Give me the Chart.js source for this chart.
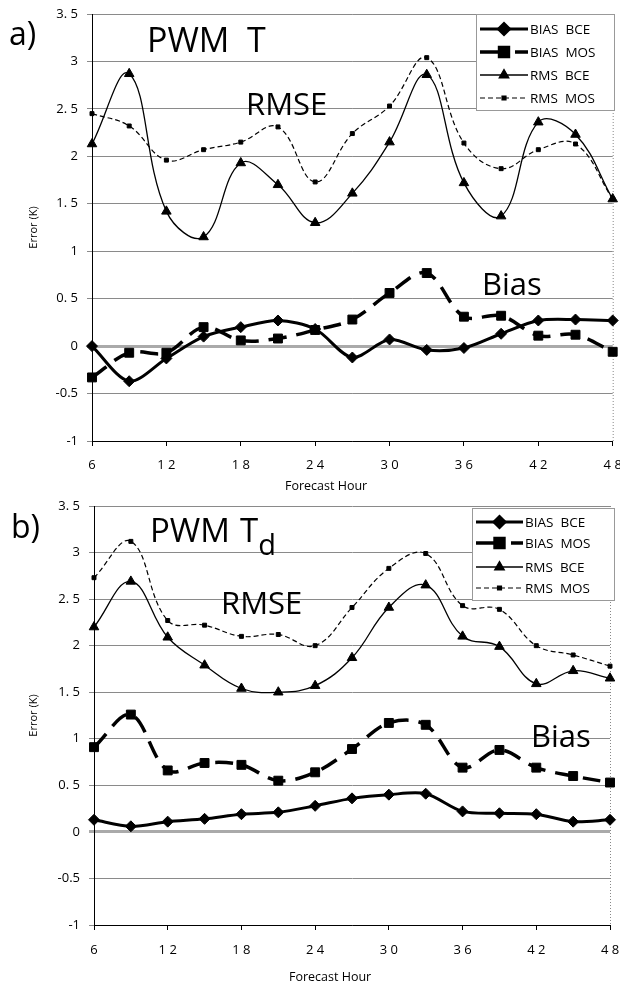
<!DOCTYPE html>
<html>
<head>
<meta charset="utf-8">
<script src="https://cdn.jsdelivr.net/npm/chart.js@4.4.1/dist/chart.umd.min.js"></script>
<style>
  body { margin: 0; background: #fff; }
  #page { position: relative; width: 620px; height: 989px; font-family: "Open Sans", sans-serif; color: #000; overflow: hidden; }
  canvas { position: absolute; left: 0; }
  .lbl { position: absolute; line-height: 1; white-space: pre; }
</style>
</head>
<body>
<div id="page">
  <canvas id="chartA" width="620" height="495" style="top:0"></canvas>
  <canvas id="chartB" width="620" height="494" style="top:495px"></canvas>

  <!-- panel a -->
  <div class="lbl" style="left:9px;top:17px;font-size:32px">a)</div>
  <div class="lbl" style="left:147px;top:22px;font-size:34px">PWM</div>
  <div class="lbl" style="left:247px;top:22px;font-size:34px">T</div>
  <div class="lbl" style="left:246px;top:88px;font-size:31px">RMSE</div>
  <div class="lbl" style="left:482px;top:268px;font-size:31px">Bias</div>
  <div class="lbl" style="left:285px;top:480px;font-size:12.5px">Forecast Hour</div>

  <!-- panel b -->
  <div class="lbl" style="left:11px;top:510px;font-size:32px">b)</div>
  <div class="lbl" style="left:150px;top:513px;font-size:33px">PWM</div>
  <div class="lbl" style="left:240px;top:513px;font-size:33px">T<span style="font-size:29px;position:relative;top:13px">d</span></div>
  <div class="lbl" style="left:221px;top:587px;font-size:31px">RMSE</div>
  <div class="lbl" style="left:531px;top:720px;font-size:31px">Bias</div>
  <div class="lbl" style="left:289px;top:971px;font-size:12.5px">Forecast Hour</div>
</div>

<script>
// forecast hours (x) and tick labels
const hours = [6, 9, 12, 15, 18, 21, 24, 27, 30, 33, 36, 39, 42, 45, 48];
const xTickValues = [6, 12, 18, 24, 30, 36, 42, 48];
const xTickText = ['6', '1 2', '1 8', '2 4', '3 0', '3 6', '4 2', '4 8'];
const yTickValues = [-1, -0.5, 0, 0.5, 1, 1.5, 2, 2.5, 3, 3.5];
const yTickText = ['-1', '-0.5', '0', '0. 5', '1', '1. 5', '2', '2. 5', '3', '3. 5'];
const seriesNames = ['BIAS  BCE', 'BIAS  MOS', 'RMS  BCE', 'RMS  MOS'];

// a) PWM T
const aBiasBce = [0.00, -0.37, -0.13, 0.10, 0.20, 0.27, 0.18, -0.12, 0.07, -0.04, -0.02, 0.13, 0.27, 0.28, 0.27];
const aBiasMos = [-0.33, -0.07, -0.07, 0.20, 0.06, 0.08, 0.17, 0.28, 0.56, 0.77, 0.31, 0.32, 0.11, 0.12, -0.06];
const aRmsBce = [2.13, 2.87, 1.42, 1.15, 1.93, 1.70, 1.30, 1.61, 2.15, 2.86, 1.72, 1.37, 2.36, 2.23, 1.55];
const aRmsMos = [2.45, 2.32, 1.96, 2.07, 2.15, 2.31, 1.73, 2.24, 2.53, 3.04, 2.14, 1.87, 2.07, 2.13, 1.55];

// b) PWM Td
const bBiasBce = [0.13, 0.06, 0.11, 0.14, 0.19, 0.21, 0.28, 0.36, 0.40, 0.41, 0.22, 0.20, 0.19, 0.11, 0.13];
const bBiasMos = [0.91, 1.26, 0.66, 0.74, 0.72, 0.55, 0.64, 0.89, 1.17, 1.15, 0.69, 0.88, 0.69, 0.60, 0.53];
const bRmsBce = [2.20, 2.69, 2.09, 1.79, 1.54, 1.50, 1.57, 1.87, 2.41, 2.65, 2.10, 1.99, 1.59, 1.73, 1.65];
const bRmsMos = [2.73, 3.12, 2.27, 2.22, 2.10, 2.12, 2.00, 2.41, 2.83, 2.99, 2.43, 2.39, 2.00, 1.90, 1.78];

const FONT = '"Open Sans", sans-serif';

// how each series is drawn
const lineStyles = [
  { borderWidth: 3, borderDash: [], pointStyle: 'rectRot', pointRadius: 5.5, tension: 0.3 },
  { borderWidth: 3.5, borderDash: [18, 10], pointStyle: 'rect', pointRadius: 6.3, tension: 0.35 },
  { borderWidth: 1.3, borderDash: [], pointStyle: 'triangle', pointRadius: 5.5, tension: 0.4 },
  { borderWidth: 1.2, borderDash: [5, 3], pointStyle: 'rect', pointRadius: 2.8, tension: 0.4 }
];
// dash used for the short legend samples
const keyDash = [[], [27, 8, 20], [], [5, 3]];

// legend with line sample + marker, like the spreadsheet one
const seriesKey = {
  id: 'seriesKey',
  afterDraw(chart, args, o) {
    const ctx = chart.ctx;
    ctx.save();
    ctx.fillStyle = '#fff';
    ctx.fillRect(o.left, o.top, o.right - o.left, o.bottom - o.top);
    ctx.strokeStyle = '#999';
    ctx.lineWidth = 1;
    ctx.strokeRect(o.left + 0.5, o.top + 0.5, o.right - o.left - 1, o.bottom - o.top - 1);
    chart.data.datasets.forEach((ds, i) => {
      const y = o.rows[i];
      ctx.strokeStyle = '#000';
      ctx.lineWidth = ds.borderWidth;
      ctx.setLineDash(keyDash[i]);
      ctx.beginPath();
      ctx.moveTo(o.x0, y);
      ctx.lineTo(o.x1, y);
      ctx.stroke();
      ctx.setLineDash([]);
      ctx.fillStyle = '#000';
      Chart.helpers.drawPoint(ctx, { pointStyle: ds.pointStyle, radius: ds.pointRadius, borderWidth: 1, rotation: 0 }, (o.x0 + o.x1) / 2, y);
      ctx.font = '13.5px ' + FONT;
      ctx.textBaseline = 'middle';
      ctx.fillText(ds.label, o.textX, y + 1);
    });
    ctx.restore();
  }
};

// dotted right edge of the plot area
const plotFrame = {
  id: 'plotFrame',
  beforeDatasetsDraw(chart) {
    const { ctx, chartArea: a } = chart;
    ctx.save();
    ctx.strokeStyle = '#888';
    ctx.lineWidth = 1;
    ctx.setLineDash([1, 2]);
    ctx.beginPath();
    ctx.moveTo(a.right + 0.5, a.top);
    ctx.lineTo(a.right + 0.5, a.bottom);
    ctx.stroke();
    ctx.restore();
  }
};

function makeChart(id, series, box, key) {
  const datasets = series.map((vals, i) => Object.assign({
    label: seriesNames[i],
    data: hours.map((h, k) => ({ x: h, y: vals[k] })),
    borderColor: '#000',
    backgroundColor: '#000',
    pointBorderWidth: 1,
    clip: false
  }, lineStyles[i]));

  return new Chart(document.getElementById(id), {
    type: 'line',
    data: { datasets: datasets },
    options: {
      responsive: false,
      animation: false,
      devicePixelRatio: 1,
      layout: { padding: { top: box.top, right: box.right, left: 0, bottom: 0 } },
      plugins: {
        legend: { display: false },
        tooltip: { enabled: false },
        seriesKey: key
      },
      scales: {
        x: {
          type: 'linear',
          min: 6,
          max: 48,
          afterFit: s => { s.height = box.xh; s.paddingLeft = 0; s.paddingRight = 0; },
          afterBuildTicks: s => { s.ticks = xTickValues.map(v => ({ value: v })); },
          ticks: {
            callback: v => xTickText[xTickValues.indexOf(v)],
            padding: box.xpad,
            color: '#000',
            font: { family: FONT, size: 13 },
            maxRotation: 0,
            autoSkip: false
          },
          grid: { drawOnChartArea: false, tickLength: 5, tickColor: '#000' },
          border: { color: '#000', width: 1 }
        },
        y: {
          min: -1,
          max: 3.5,
          afterFit: s => { s.width = box.yw; s.paddingTop = 0; s.paddingBottom = 0; },
          afterBuildTicks: s => { s.ticks = yTickValues.map(v => ({ value: v })); },
          ticks: {
            callback: v => yTickText[yTickValues.indexOf(v)],
            padding: 9,
            color: '#000',
            font: { family: FONT, size: 13 }
          },
          grid: {
            color: c => (c.tick && c.tick.value === 0) ? '#aaa' : '#8a8a8a',
            lineWidth: c => (c.tick && c.tick.value === 0) ? 3 : 1,
            tickLength: 5
          },
          border: { color: '#000', width: 1 },
          title: {
            display: true,
            text: 'Error (K)',
            color: '#000',
            font: { family: FONT, size: 11 },
            padding: { top: 27, bottom: 0 }
          }
        }
      }
    },
    plugins: [plotFrame, seriesKey]
  });
}

makeChart('chartA', [aBiasBce, aBiasMos, aRmsBce, aRmsMos],
  { top: 14, right: 7, xh: 54, yw: 92, xpad: 11 },
  { left: 476, top: 14, right: 615, bottom: 111, rows: [29, 52, 75, 98], x0: 480, x1: 528, textX: 530 });

makeChart('chartB', [bBiasBce, bBiasMos, bRmsBce, bRmsMos],
  { top: 11, right: 10, xh: 64, yw: 94, xpad: 12 },
  { left: 472, top: 13, right: 615, bottom: 106, rows: [27, 48, 72, 93], x0: 476, x1: 523, textX: 525 });
</script>
</body>
</html>
